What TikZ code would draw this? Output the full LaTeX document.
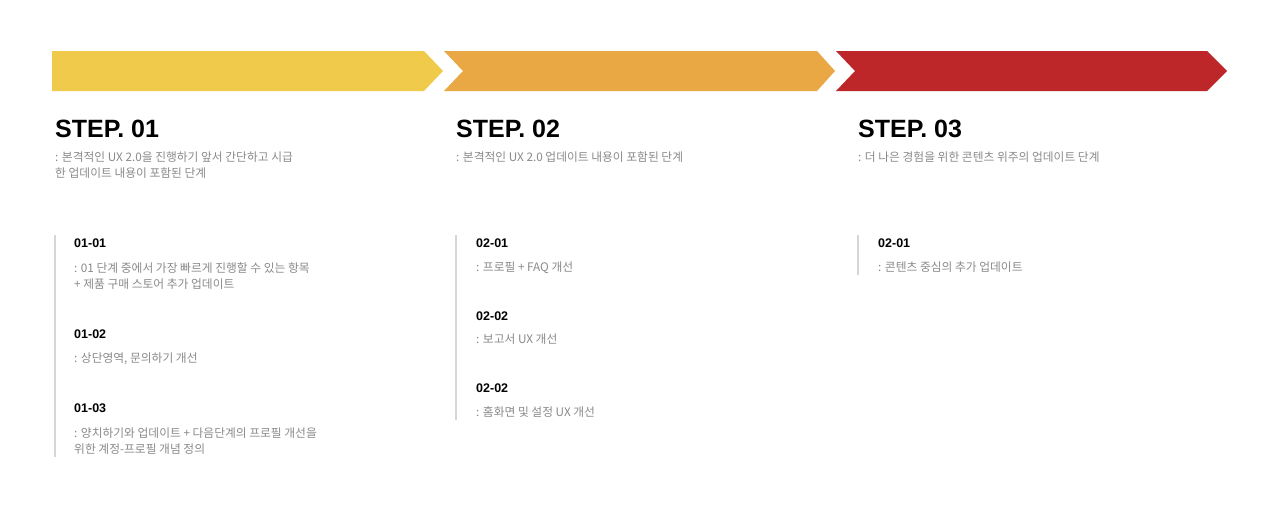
\documentclass[tikz,border=0pt]{standalone}
\usepackage{fontspec}
\setmainfont{Liberation Sans}
\newfontfamily\krfont{Noto Sans CJK KR}
\definecolor{cyel}{HTML}{F0CA4A}
\definecolor{cora}{HTML}{E9A844}
\definecolor{cred}{HTML}{BE272A}
\definecolor{cgray}{HTML}{8A8A8A}
\definecolor{cbar}{HTML}{D6D6D6}
\tikzset{
  steptitle/.style={anchor=base west, inner sep=0pt, font=\bfseries\fontsize{25}{30}\selectfont, text=black},
  stepsub/.style={anchor=base west, inner sep=0pt, align=left, font=\krfont\fontsize{11.75}{16}\selectfont, text=cgray},
  itemhead/.style={anchor=base west, inner sep=0pt, font=\bfseries\fontsize{12.5}{15}\selectfont, text=black},
  itemdesc/.style={anchor=base west, inner sep=0pt, align=left, font=\krfont\fontsize{11.75}{16}\selectfont, text=cgray},
  sidebar/.style={draw=cbar, line width=2.2pt}
}
\begin{document}
\begin{tikzpicture}[x=1pt,y=-1pt]
\useasboundingbox[fill=white] (0,0) rectangle (1280,517);
% arrows
\fill[cyel] (52,51) -- (424,51) -- (443,71) -- (424,91) -- (52,91) -- cycle;
\fill[cora] (444,51) -- (817,51) -- (835,71) -- (817,91) -- (444,91) -- (463,71) -- cycle;
\fill[cred] (836,51) -- (1207,51) -- (1227,71) -- (1207,91) -- (836,91) -- (855,71) -- cycle;
% step titles
\node[steptitle] (s1) at (55,137) {STEP. 01};
\node[steptitle] (s2) at (456,137) {STEP. 02};
\node[steptitle] (s3) at (858,137) {STEP. 03};
\node[stepsub] (d1) at (55,177) {: 본격적인 UX 2.0을 진행하기 앞서 간단하고 시급\\한 업데이트 내용이 포함된 단계};
\node[stepsub] (d2) at (456,161) {: 본격적인 UX 2.0 업데이트 내용이 포함된 단계};
\node[stepsub] (d3) at (858,161) {: 더 나은 경험을 위한 콘텐츠 위주의 업데이트 단계};
% side bars
\coordinate (b1t) at (55,235); \coordinate (b1b) at (55,457);
\coordinate (b2t) at (456,235); \coordinate (b2b) at (456,420);
\coordinate (b3t) at (858,235); \coordinate (b3b) at (858,275);
\draw[sidebar] (b1t) -- (b1b);
\draw[sidebar] (b2t) -- (b2b);
\draw[sidebar] (b3t) -- (b3b);
% column 1
\node[itemhead] (h11) at (74,247) {01-01};
\node[itemdesc] (t11) at (74,288) {: 01 단계 중에서 가장 빠르게 진행할 수 있는 항목\\+ 제품 구매 스토어 추가 업데이트};
\node[itemhead] (h12) at (74,338) {01-02};
\node[itemdesc] (t12) at (74,362) {: 상단영역, 문의하기 개선};
\node[itemhead] (h13) at (74,412) {01-03};
\node[itemdesc] (t13) at (74,453) {: 양치하기와 업데이트 + 다음단계의 프로필 개선을\\위한 계정-프로필 개념 정의};
% column 2
\node[itemhead] (h21) at (476,247) {02-01};
\node[itemdesc] (t21) at (476,271) {: 프로필 + FAQ 개선};
\node[itemhead] (h22) at (476,320) {02-02};
\node[itemdesc] (t22) at (476,343) {: 보고서 UX 개선};
\node[itemhead] (h23) at (476,392) {02-02};
\node[itemdesc] (t23) at (476,416) {: 홈화면 및 설정 UX 개선};
% column 3
\node[itemhead] (h31) at (878,247) {02-01};
\node[itemdesc] (t31) at (878,271) {: 콘텐츠 중심의 추가 업데이트};
\end{tikzpicture}
\end{document}
